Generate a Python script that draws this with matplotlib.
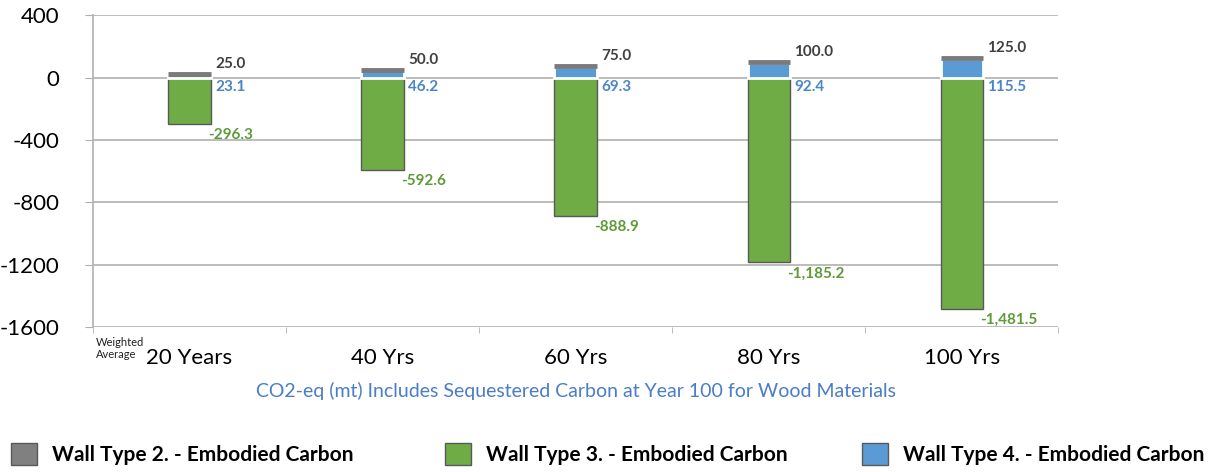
import numpy as np
import matplotlib.pyplot as plt
from matplotlib.patches import Patch

plt.rcParams['font.family'] = ['Lato', 'DejaVu Sans']
plt.rcParams['axes.unicode_minus'] = False

categories = ['20 Years', '40 Yrs', '60 Yrs', '80 Yrs', '100 Yrs']
wall2 = [25.0, 50.0, 75.0, 100.0, 125.0]
wall3 = [-296.3, -592.6, -888.9, -1185.2, -1481.5]
wall4 = [23.1, 46.2, 69.3, 92.4, 115.5]

grey = '#808080'
green = '#6fac46'
blue = '#5b9bd5'

fig = plt.figure(figsize=(12.19, 4.72), dpi=100)
ax = fig.add_axes([0.0763, 0.307, 0.792, 0.661])

x = np.arange(len(categories))
w = 0.22

ax.bar(x, wall3, w, color=green, edgecolor='#595959', linewidth=1.0, zorder=3)
ax.bar(x, wall2, w, color=grey, linewidth=0, zorder=3)
ax.bar(x, wall4, w, color=blue, edgecolor='white', linewidth=2.0, zorder=4)
# top of the grey bar, so it stays visible above the blue one
ax.hlines(wall2, x - w / 2, x + w / 2, colors='#7a7a7a', linewidth=3.5,
          zorder=5)

for i in range(len(x)):
    ax.annotate(f'{wall2[i]:,.1f}', (x[i] + w / 2, wall2[i]), xytext=(3, 2),
                textcoords='offset points', ha='left', va='bottom',
                fontsize=11, fontweight='bold', color='#404040')
    ax.annotate(f'{wall4[i]:,.1f}', (x[i] + w / 2, 0), xytext=(3, -2),
                textcoords='offset points', ha='left', va='top',
                fontsize=11, fontweight='bold', color='#4a86c5')
    ax.annotate(f'{wall3[i]:,.1f}', (x[i] + w / 2, wall3[i]), xytext=(-2, -3),
                textcoords='offset points', ha='left', va='top',
                fontsize=11, fontweight='bold', color='#5e9a38')

ax.set_xlim(-0.5, len(x) - 0.5)
ax.set_ylim(-1600, 400)
ax.set_yticks(np.arange(-1600, 401, 400))
ax.yaxis.grid(True, color='#b0b0b0', linewidth=1.2, zorder=0)
ax.set_axisbelow(True)

ax.set_xticks(x)
ax.set_xticklabels(categories, fontsize=16)
ax.set_xticks(np.arange(-0.5, len(x), 1.0), minor=True)
ax.tick_params(axis='x', which='major', length=0, pad=15)
ax.tick_params(axis='x', which='minor', length=4, color='#b0b0b0')
ax.tick_params(axis='y', length=6, color='#b0b0b0', labelsize=16, pad=18)

for side in ['top', 'right', 'bottom']:
    ax.spines[side].set_visible(False)
ax.spines['left'].set_color('#b0b0b0')
ax.spines['left'].set_linewidth(1.2)

ax.set_xlabel('CO2-eq (mt) Includes Sequestered Carbon at Year 100 for Wood Materials',
              fontsize=14, color='#4a7cc7', labelpad=10)

fig.text(0.079, 0.262, 'Weighted\nAverage', fontsize=8, ha='left', va='center',
         linespacing=1.1, color='#202020')

legend_items = [('Wall Type 2. - Embodied Carbon', grey, -0.006),
                ('Wall Type 3. - Embodied Carbon', green, 0.350),
                ('Wall Type 4. - Embodied Carbon', blue, 0.692)]
for label, color, xpos in legend_items:
    fig.legend(handles=[Patch(facecolor=color, edgecolor='#595959', label=label)],
               loc='center left', bbox_to_anchor=(xpos, 0.038), frameon=False,
               prop={'size': 15, 'weight': 'bold'}, handlelength=1.25,
               handleheight=1.25, handletextpad=0.7)

fig.savefig('out.png', dpi=100)
